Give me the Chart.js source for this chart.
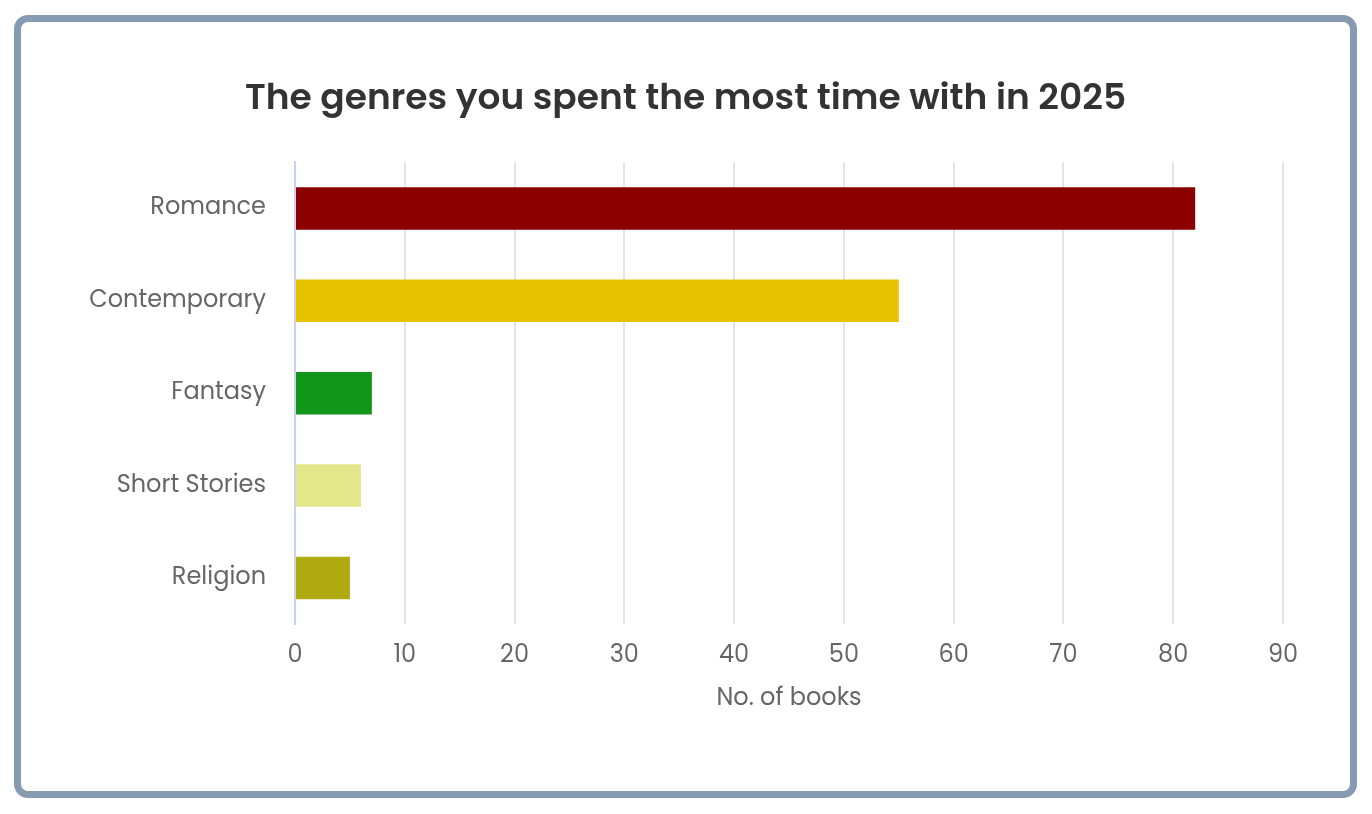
<!DOCTYPE html>
<html>
<head>
<meta charset="utf-8">
<script src="https://cdn.jsdelivr.net/npm/chart.js@4"></script>
<style>
  html, body { margin: 0; padding: 0; background: #ffffff; }
  .card {
    position: absolute;
    left: 14px; top: 15px;
    width: 1329px; height: 769px;
    border: 7px solid #869bb2;
    border-radius: 14px;
    background: #ffffff;
  }
  .card canvas { display: block; }
</style>
</head>
<body>
<div class="card">
  <canvas id="genreChart" width="1329" height="769"></canvas>
</div>
<script>
// genres and how many books in each
const genres = ['Romance', 'Contemporary', 'Fantasy', 'Short Stories', 'Religion'];
const bookCounts = [82, 55, 7, 6, 5];
const barColors = ['#8b0000', '#e6c200', '#12961a', '#e3e689', '#aeaa10'];
const xMax = 90;

const fontFamily = "Poppins, 'Open Sans', sans-serif";

const ctx = document.getElementById('genreChart').getContext('2d');
new Chart(ctx, {
    type: 'bar',
    data: {
        labels: genres,
        datasets: [
            {
                data: bookCounts,
                backgroundColor: barColors,
                barPercentage: 0.46,
                categoryPercentage: 1,
            },
        ],
    },
    options: {
        indexAxis: 'y',
        responsive: false,
        animation: false,
        layout: {
            padding: { left: 67, right: 67, top: 56, bottom: 80 },
        },
        plugins: {
            legend: { display: false },
            tooltip: { enabled: false },
            title: {
                display: true,
                text: 'The genres you spent the most time with in 2025',
                color: '#333333',
                font: { family: fontFamily, size: 36, weight: '600' },
                padding: { top: 0, bottom: 41 },
            },
        },
        scales: {
            x: {
                min: 0,
                max: xMax,
                ticks: {
                    stepSize: 10,
                    color: '#666666',
                    padding: 17,
                    font: { family: fontFamily, size: 24 },
                },
                grid: {
                    color: '#e5e5e5',
                    lineWidth: 2,
                    drawTicks: false,
                },
                border: { display: false },
                title: {
                    display: true,
                    text: 'No. of books',
                    color: '#666666',
                    font: { family: fontFamily, size: 24, lineHeight: 1 },
                    padding: { top: 0, bottom: 0 },
                },
            },
            y: {
                // fixed width so the plot starts where the original does
                afterFit: (axis) => { axis.width = 207; },
                ticks: {
                    color: '#666666',
                    padding: 21,
                    font: { family: fontFamily, size: 24 },
                },
                grid: { display: false },
                border: { color: '#c8d4e8', width: 2 },
            },
        },
    },
});
</script>
</body>
</html>
